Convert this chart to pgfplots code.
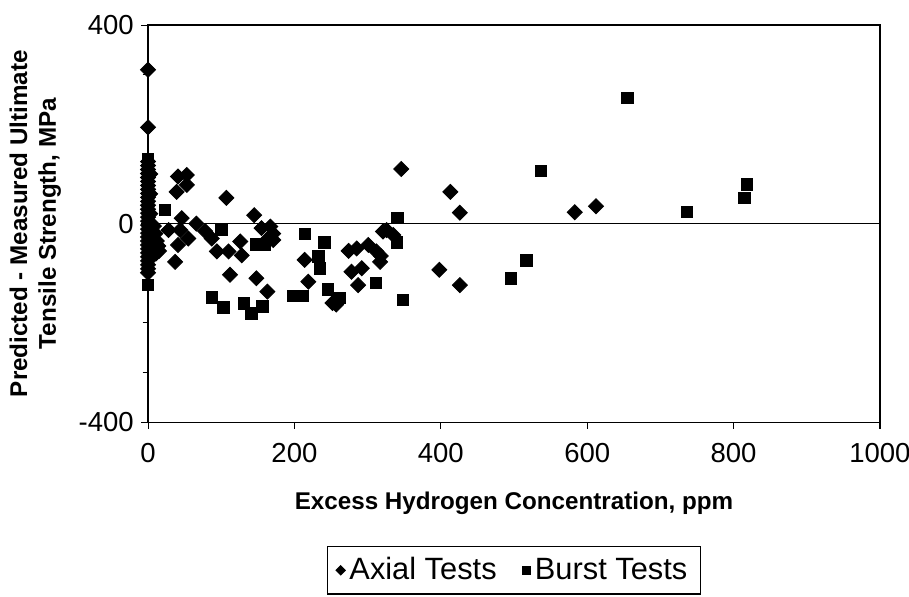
\documentclass[border=0pt]{standalone}
\usepackage{pgfplots}
\pgfplotsset{compat=1.18}
\usepackage{fontspec}
\setmainfont{Liberation Sans}

% Tension test results: predicted minus measured UTS against excess hydrogen
\pgfplotstableread{
x y
0 310
0 194
0 125
0 117
0 109
0 101
0 93
0 85
0 77
0 69
0 61
0 53
0 45
0 37
0 29
0 21
0 13
0 5
0 -3
0 -11
0 -19
0 -27
0 -35
0 -43
0 -51
0 -59
0 -67
0 -75
0 -83
0 -91
0 -99
3 100
3 60
3 20
3 -20
3 -60
8 -5
10 -20
12 -35
9 -50
6 -62
14 -45
11 -60
7 -30
15 -55
41 95
53 98
53 78
39 64
107 52
46 11
66 0
28 -13
44 -13
78 -15
87 -30
55 -30
41 -43
37 -77
94 -56
110 -56
126 -36
128 -64
112 -103
148 -110
163 -137
145 17
155 -9
167 -6
171 -20
164 -30
171 -33
214 -73
219 -117
274 -55
285 -50
301 -43
312 -56
318 -65
317 -77
278 -97
292 -90
287 -124
321 -16
326 -13
335 -23
346 110
413 64
426 22
398 -93
426 -124
583 23
612 35
252 -160
257 -163
}\axial

\pgfplotstableread{
x y
0 130
0 -124
23 28
100 -13
87 -149
103 -169
131 -161
141 -181
156 -167
148 -42
160 -43
198 -146
212 -146
214 -21
241 -38
233 -66
235 -90
246 -133
262 -150
311 -120
348 -154
341 12
340 -38
496 -110
517 -74
537 106
655 253
736 24
815 52
818 79
}\burst

\begin{document}
\begin{tikzpicture}
\begin{axis}[
  scale only axis,
  width=332.7pt, height=180.5pt,
  xmin=0, xmax=1000, ymin=-400, ymax=400,
  xtick={0,200,...,1000},
  ytick={-400,0,400}, yticklabels={-400,0,400},
  minor ytick={-300,-200,-100,100,200,300},
  xtick pos=bottom, ytick pos=left,
  tick align=outside,
  major tick length=3pt, minor tick length=2.5pt,
  tick style={black, line width=0.5pt},
  axis line style={black, line width=0.6pt},
  /pgf/number format/assume math mode=true,
  /pgf/number format/1000 sep={},
  ticklabel style={font=\fontsize{12.5}{14}\selectfont},
  xticklabel style={yshift=-3pt},
  xlabel={Excess Hydrogen Concentration, ppm},
  xlabel style={font=\bfseries\fontsize{11}{13}\selectfont,
    at={(axis description cs:0.5,-0.204)}, anchor=center},
  ylabel={Predicted - Measured Ultimate\\Tensile Strength, MPa},
  ylabel style={font=\bfseries\fontsize{11}{13}\selectfont, align=center,
    at={(axis description cs:-0.154,0.5)}, anchor=center},
  legend columns=2,
  legend style={at={(axis description cs:0.5,-0.373)}, anchor=center,
    draw=black, line width=0.6pt, font=\fontsize{14}{16}\selectfont,
    inner xsep=4pt, inner ysep=3pt,
    /tikz/every even column/.append style={column sep=10pt}},
  legend cell align=left,
]
\draw[black, line width=0.6pt] (rel axis cs:0,0.5) -- (rel axis cs:1,0.5);

\addplot[only marks, mark=square*, mark size=2.4pt,
  mark options={rotate=45, fill=black, draw=black}, forget plot]
  table[x=x, y=y] {\axial};
\addplot[only marks, mark=square*, mark size=2.6pt,
  mark options={fill=black, draw=black}, forget plot]
  table[x=x, y=y] {\burst};

\addlegendimage{only marks, mark=square*, mark size=1.4pt,
  mark options={rotate=45, fill=black, draw=black}}
\addlegendentry{Axial Tests}
\addlegendimage{only marks, mark=square*, mark size=1.7pt,
  mark options={fill=black, draw=black}}
\addlegendentry{Burst Tests}
\end{axis}
\pgfresetboundingbox
\path[use as bounding box] (-67.3pt,-79.1pt) rectangle (345.9pt,191.9pt);
\end{tikzpicture}
\end{document}
